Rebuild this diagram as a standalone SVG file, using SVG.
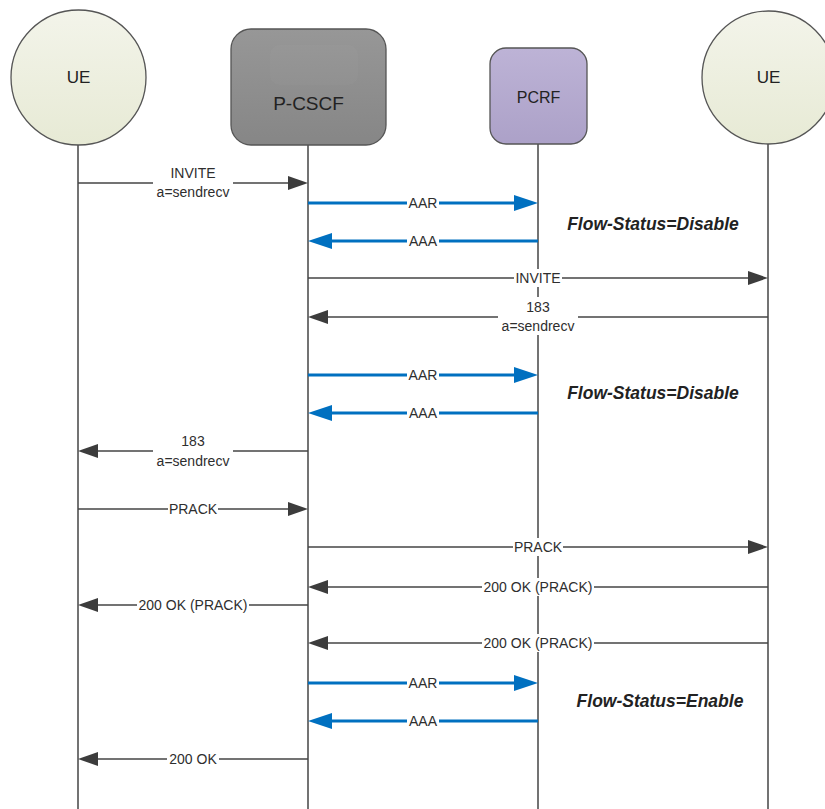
<svg xmlns="http://www.w3.org/2000/svg" width="825" height="809" viewBox="0 0 825 809">
<defs>
<linearGradient id="gUE" x1="0" y1="0" x2="0" y2="1"><stop offset="0" stop-color="#F3F4EA"/><stop offset="1" stop-color="#E7EAD5"/></linearGradient>
<linearGradient id="gCS" x1="0" y1="0" x2="0" y2="1"><stop offset="0" stop-color="#979797"/><stop offset="1" stop-color="#868686"/></linearGradient>
<linearGradient id="gPC" x1="0" y1="0" x2="0" y2="1"><stop offset="0" stop-color="#BDB3D6"/><stop offset="1" stop-color="#ACA1C8"/></linearGradient>
<marker id="ag" markerUnits="userSpaceOnUse" markerWidth="22" markerHeight="16" refX="0" refY="7" orient="auto" viewBox="0 0 22 14"><path d="M0,0 L20,7 L0,14 z" fill="#3C3C3C"/></marker>
<marker id="ab" markerUnits="userSpaceOnUse" markerWidth="26" markerHeight="18" refX="0" refY="8" orient="auto" viewBox="0 0 26 16"><path d="M0,0 L24,8 L0,16 z" fill="#0070C0"/></marker>
</defs>
<style>
.life{stroke:#444;stroke-width:1.5;fill:none}
.msg{stroke:#444;stroke-width:1.4;fill:none}
.blue{stroke:#0070C0;stroke-width:3;fill:none}
.lbl{font-family:"Liberation Sans",Arial,sans-serif;font-size:14px;fill:#2E2E2E;text-anchor:middle}
.bg{fill:#FFFFFF}
.node{font-family:"Liberation Sans",Arial,sans-serif;fill:#222;text-anchor:middle}
.fs{font-family:"Liberation Sans",Arial,sans-serif;font-size:17.5px;font-weight:bold;font-style:italic;fill:#222;text-anchor:middle}
</style>
<rect width="825" height="809" fill="#FFFFFF"/>

<g id="lifelines">
<line class="life" x1="78" y1="145" x2="78" y2="809"/>
<line class="life" x1="308" y1="145" x2="308" y2="809"/>
<line class="life" x1="538" y1="144" x2="538" y2="809"/>
<line class="life" x1="768" y1="144" x2="768" y2="809"/>
</g>

<g id="ue-left">
<circle cx="78.5" cy="77.5" r="67.5" fill="url(#gUE)" stroke="#555" stroke-width="1.3"/>
<text class="node" x="78.5" y="83" font-size="17">UE</text>
</g>
<g id="p-cscf">
<rect x="231" y="29" width="155" height="116" rx="20" fill="url(#gCS)" stroke="#555" stroke-width="1.3"/>
<rect x="270" y="45" width="88" height="40" rx="10" fill="#FFFFFF" opacity="0.025"/>
<text class="node" x="308.5" y="110" font-size="19">P-CSCF</text>
</g>
<g id="pcrf">
<rect x="490" y="48" width="97" height="96" rx="16" fill="url(#gPC)" stroke="#555" stroke-width="1.3"/>
<text class="node" x="538.5" y="103" font-size="16">PCRF</text>
</g>
<g id="ue-right">
<circle cx="768.5" cy="77.5" r="66.5" fill="url(#gUE)" stroke="#555" stroke-width="1.3"/>
<text class="node" x="768.5" y="83" font-size="17">UE</text>
</g>

<g id="connectors">
<line class="msg" x1="78" y1="183" x2="288" y2="183" marker-end="url(#ag)"/>
<line class="blue" x1="308" y1="203" x2="514" y2="203" marker-end="url(#ab)"/>
<line class="blue" x1="538" y1="241" x2="332" y2="241" marker-end="url(#ab)"/>
<line class="msg" x1="308" y1="278" x2="748" y2="278" marker-end="url(#ag)"/>
<line class="msg" x1="768" y1="317" x2="328" y2="317" marker-end="url(#ag)"/>
<line class="blue" x1="308" y1="375" x2="514" y2="375" marker-end="url(#ab)"/>
<line class="blue" x1="538" y1="413" x2="332" y2="413" marker-end="url(#ab)"/>
<line class="msg" x1="308" y1="451" x2="98" y2="451" marker-end="url(#ag)"/>
<line class="msg" x1="78" y1="509" x2="288" y2="509" marker-end="url(#ag)"/>
<line class="msg" x1="308" y1="547" x2="748" y2="547" marker-end="url(#ag)"/>
<line class="msg" x1="768" y1="587" x2="328" y2="587" marker-end="url(#ag)"/>
<line class="msg" x1="308" y1="605" x2="98" y2="605" marker-end="url(#ag)"/>
<line class="msg" x1="768" y1="643" x2="328" y2="643" marker-end="url(#ag)"/>
<line class="blue" x1="308" y1="683" x2="514" y2="683" marker-end="url(#ab)"/>
<line class="blue" x1="538" y1="721" x2="332" y2="721" marker-end="url(#ab)"/>
<line class="msg" x1="308" y1="759" x2="98" y2="759" marker-end="url(#ag)"/>
</g>

<g id="labels">
<rect class="bg" x="153" y="163" width="80" height="37"/>
<text class="lbl" x="193" y="178">INVITE</text>
<text class="lbl" x="193" y="197">a=sendrecv</text>

<rect class="bg" x="407" y="195" width="32" height="16"/>
<text class="lbl" x="423" y="208">AAR</text>
<rect class="bg" x="407" y="233" width="32" height="16"/>
<text class="lbl" x="423" y="246">AAA</text>

<rect class="bg" x="514" y="269" width="48" height="18"/>
<text class="lbl" x="538" y="283">INVITE</text>

<rect class="bg" x="498" y="297" width="80" height="38"/>
<text class="lbl" x="538" y="312">183</text>
<text class="lbl" x="538" y="331">a=sendrecv</text>

<rect class="bg" x="407" y="367" width="32" height="16"/>
<text class="lbl" x="423" y="380">AAR</text>
<rect class="bg" x="407" y="405" width="32" height="16"/>
<text class="lbl" x="423" y="418">AAA</text>

<rect class="bg" x="153" y="431" width="80" height="38"/>
<text class="lbl" x="193" y="446">183</text>
<text class="lbl" x="193" y="466">a=sendrecv</text>

<rect class="bg" x="168" y="501" width="50" height="16"/>
<text class="lbl" x="193" y="514">PRACK</text>

<rect class="bg" x="513" y="538" width="50" height="18"/>
<text class="lbl" x="538" y="552">PRACK</text>

<rect class="bg" x="482" y="578" width="112" height="18"/>
<text class="lbl" x="538" y="592">200 OK (PRACK)</text>

<rect class="bg" x="137" y="597" width="112" height="16"/>
<text class="lbl" x="193" y="610">200 OK (PRACK)</text>

<rect class="bg" x="482" y="634" width="112" height="18"/>
<text class="lbl" x="538" y="648">200 OK (PRACK)</text>

<rect class="bg" x="407" y="675" width="32" height="16"/>
<text class="lbl" x="423" y="688">AAR</text>
<rect class="bg" x="407" y="713" width="32" height="16"/>
<text class="lbl" x="423" y="726">AAA</text>

<rect class="bg" x="167" y="751" width="52" height="16"/>
<text class="lbl" x="193" y="764">200 OK</text>
</g>

<g id="notes">
<text class="fs" x="653" y="230">Flow-Status=Disable</text>
<text class="fs" x="653" y="399">Flow-Status=Disable</text>
<text class="fs" x="660" y="707">Flow-Status=Enable</text>
</g>
</svg>
